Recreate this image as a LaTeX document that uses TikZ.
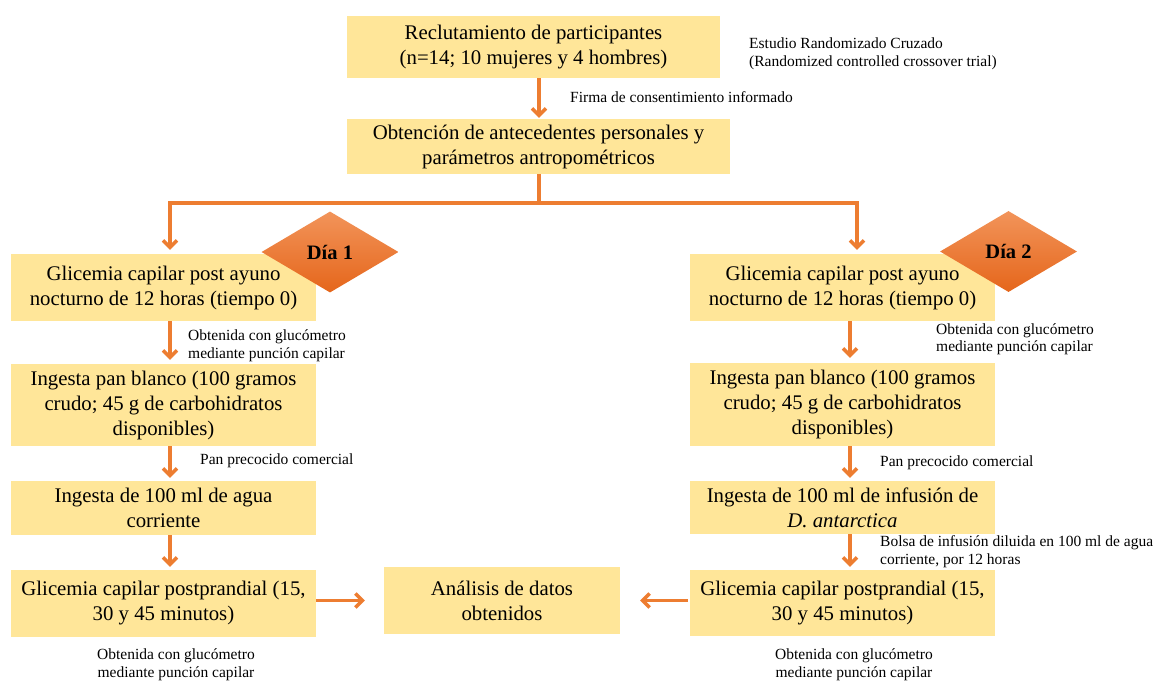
\documentclass[tikz,border=0pt]{standalone}
\usepackage{fontspec}
\setmainfont{Liberation Serif}
\usetikzlibrary{arrows.meta,shapes.geometric}
\definecolor{boxfill}{HTML}{FFE699}
\definecolor{arrcol}{HTML}{ED7D31}
\definecolor{diatop}{HTML}{F2945A}
\definecolor{diabot}{HTML}{E5661B}
\tikzset{
  box/.style={draw=none, fill=boxfill, align=center, inner sep=0pt,
    font=\fontsize{20.8}{25}\selectfont},
  note/.style={align=left, inner sep=0pt, font=\fontsize{15.5}{17.5}\selectfont},
  notec/.style={align=center, inner sep=0pt, font=\fontsize{15.5}{17.5}\selectfont},
  dia/.style={diamond, aspect=1.7, minimum width=137pt, minimum height=81pt, inner sep=0pt,
    top color=diatop, bottom color=diabot, draw=none,
    font=\fontsize{20.5}{24}\selectfont\bfseries},
  conn/.style={draw=arrcol, line width=3.5pt},
  arr/.style={conn, -{Straight Barb[length=7pt,width=14pt]}},
}
\begin{document}
\begin{tikzpicture}[x=1pt,y=-1pt]
\useasboundingbox (0,0) rectangle (1155,681);
% guide coordinates
\coordinate (cm) at (539,0);
\coordinate (cl) at (170,0);
\coordinate (cr) at (850,0);
\coordinate (split) at (539,203);
\coordinate (sl) at (170,203);
\coordinate (sr) at (857,203);
% top boxes
\node[box, minimum width=373pt, minimum height=62pt] (top) at (533.5,47)
  {Reclutamiento de participantes\\(n=14; 10 mujeres y 4 hombres)};
\node[box, minimum width=383pt, minimum height=55pt] (ant) at (538.5,146.5)
  {Obtención de antecedentes personales y\\parámetros antropométricos};
% left column
\node[box, minimum width=305pt, minimum height=67pt] (l1) at (163.5,287.5)
  {Glicemia capilar post ayuno\\nocturno de 12 horas (tiempo 0)};
\node[box, minimum width=305pt, minimum height=82pt] (l2) at (163.5,405)
  {Ingesta pan blanco (100 gramos\\crudo; 45 g de carbohidratos\\disponibles)};
\node[box, minimum width=305pt, minimum height=54pt] (l3) at (163.5,508)
  {Ingesta de 100 ml de agua\\corriente};
\node[box, minimum width=305pt, minimum height=67pt] (l4) at (163.5,603.5)
  {Glicemia capilar postprandial (15,\\30 y 45 minutos)};
% right column
\node[box, minimum width=305pt, minimum height=67pt] (r1) at (842.5,287.5)
  {Glicemia capilar post ayuno\\nocturno de 12 horas (tiempo 0)};
\node[box, minimum width=305pt, minimum height=83pt] (r2) at (842.5,404.5)
  {Ingesta pan blanco (100 gramos\\crudo; 45 g de carbohidratos\\disponibles)};
\node[box, minimum width=305pt, minimum height=53pt] (r3) at (842.5,507.5)
  {Ingesta de 100 ml de infusión de\\\textit{D. antarctica}};
\node[box, minimum width=305pt, minimum height=66pt] (r4) at (842.5,603)
  {Glicemia capilar postprandial (15,\\30 y 45 minutos)};
% centre box
\node[box, minimum width=236pt, minimum height=67pt] (an) at (502,600.5)
  {Análisis de datos\\obtenidos};
% diamonds
\node[dia] (d1) at (330,252) {Día 1};
\node[dia] (d2) at (1008.5,251.5) {Día 2};
% notes
\node[note, anchor=west] (est) at (749,54)
  {Estudio Randomizado Cruzado\\(Randomized controlled crossover trial)};
\node[note, anchor=west] (firma) at (570,97) {Firma de consentimiento informado};
\node[note, anchor=west] (ol1) at (188,346) {Obtenida con glucómetro\\mediante punción capilar};
\node[note, anchor=west] (pl) at (200,461) {Pan precocido comercial};
\node[notec] (ol4) at (176,664.5) {Obtenida con glucómetro\\mediante punción capilar};
\node[note, anchor=west] (or1) at (936,339.5) {Obtenida con glucómetro\\mediante punción capilar};
\node[note, anchor=west] (pr) at (880,463) {Pan precocido comercial};
\node[note, anchor=west] (bolsa) at (880,551.5)
  {Bolsa de infusión diluida en 100 ml de agua\\corriente, por 12 horas};
\node[notec] (or4) at (854,664.5) {Obtenida con glucómetro\\mediante punción capilar};
% connectors
\draw[arr, shorten >=1pt] (top.south -| cm) -- (ant.north -| cm);
\draw[conn] (ant.south -| cm) -- (split);
\draw[arr, shorten >=4pt] (split) -- (sl) -- (l1.north -| sl);
\draw[arr, shorten >=4pt] (split) -- (sr) -- (r1.north -| sr);
\draw[arr, shorten >=4pt] (l1.south -| cl) -- (l2.north -| cl);
\draw[arr, shorten >=3pt] (l2.south -| cl) -- (l3.north -| cl);
\draw[arr, shorten >=3pt] (l3.south -| cl) -- (l4.north -| cl);
\draw[arr, shorten >=5pt] (r1.south -| cr) -- (r2.north -| cr);
\draw[arr, shorten >=3pt] (r2.south -| cr) -- (r3.north -| cr);
\draw[arr, shorten >=3pt] (r3.south -| cr) -- (r4.north -| cr);
\draw[arr, shorten >=19pt] (l4.east |- an.west) -- (an.west);
\draw[arr, shorten >=20pt, shorten <=2pt] (r4.west |- an.east) -- (an.east);
\end{tikzpicture}
\end{document}
